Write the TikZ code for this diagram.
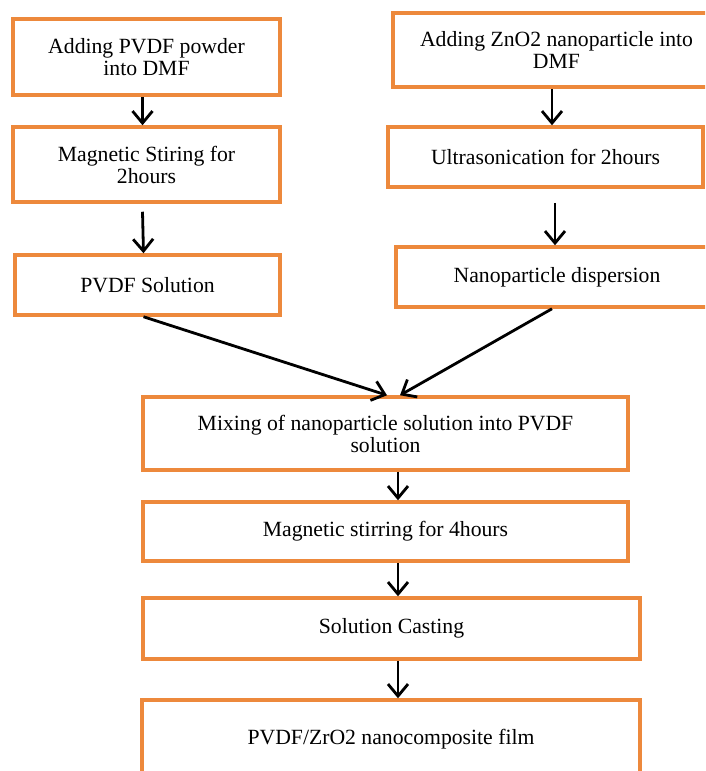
\documentclass[tikz,border=0pt]{standalone}
\usepackage{fontspec}
\setmainfont{Liberation Serif}
\usetikzlibrary{arrows.meta}
\definecolor{boxorange}{RGB}{237,137,60}
\begin{document}
\begin{tikzpicture}[x=1pt,y=-1pt,
  box/.style={draw=boxorange, line width=3.5pt, rectangle, align=center, inner sep=0pt,
              font=\fontsize{21.7}{22}\selectfont},
  arr/.style={line width=2.8pt, -{Straight Barb[length=12pt,width=20pt,line width=2.8pt]}}]
\useasboundingbox (0,0) rectangle (705,771);
\fill[white] (0,0) rectangle (705,771);
\begin{scope}
\clip (0,0) rectangle (705,771);
\node[box, minimum width=267pt, minimum height=76pt] (la) at (146.5,57) {Adding PVDF powder\\into DMF};
\node[box, minimum width=267pt, minimum height=75pt] (lb) at (146.5,164.5) {Magnetic Stiring for\\2hours};
\node[box, minimum width=265pt, minimum height=60pt] (lc) at (147.5,285) {PVDF Solution};
\node[box, minimum width=327pt, minimum height=74pt] (ra) at (556.5,50) {Adding ZnO2 nanoparticle into\\DMF};
\node[box, minimum width=315pt, minimum height=60pt] (rb) at (545.5,157) {Ultrasonication for 2hours};
\node[box, minimum width=322pt, minimum height=60pt] (rc) at (557,277) {Nanoparticle dispersion};
\node[box, minimum width=485pt, minimum height=73pt] (mix) at (385.5,433.5) {Mixing of nanoparticle solution into PVDF\\solution};
\node[box, minimum width=485pt, minimum height=59pt] (mag) at (385.5,531.5) {Magnetic stirring for 4hours};
\node[box, minimum width=497pt, minimum height=61pt] (cast) at (391.5,628.5) {Solution Casting};
\node[box, minimum width=498pt, minimum height=78pt] (film) at (391,739) {PVDF/ZrO2 nanocomposite film};

\draw[arr] ([xshift=-4]la.south) -- ([xshift=-4]lb.north);
\draw[arr] ([xshift=-4,yshift=-8]lb.south) -- ([xshift=-4]lc.north);
\draw[arr] ([xshift=-4.5]ra.south) -- ([xshift=6.5]rb.north);
\draw[arr] ([xshift=9.5,yshift=-14]rb.south) -- ([xshift=-2]rc.north);
\draw[arr] ([xshift=-4]lc.south) -- ([xshift=1.5]mix.north);
\draw[arr] ([xshift=-5]rc.south) -- ([xshift=14.5]mix.north);
\draw[arr] ([xshift=12.5]mix.south) -- ([xshift=12.5]mag.north);
\draw[arr] ([xshift=12.5]mag.south) -- ([xshift=6.5]cast.north);
\draw[arr] ([xshift=6.5]cast.south) -- ([xshift=7]film.north);
\end{scope}
\end{tikzpicture}
\end{document}
